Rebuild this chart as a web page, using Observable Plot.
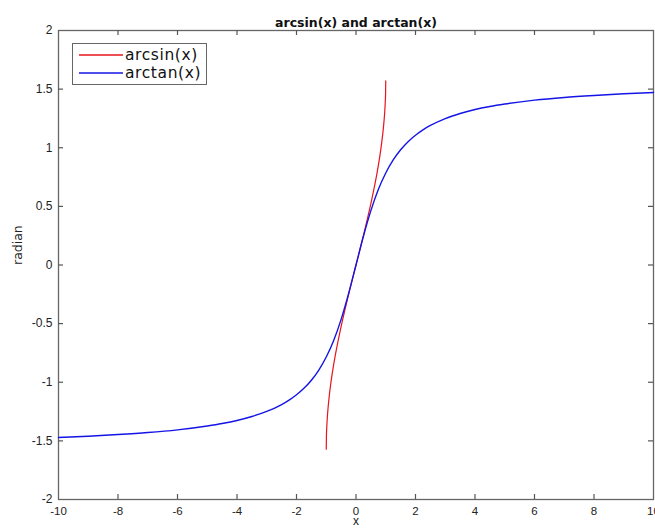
<!DOCTYPE html>
<html><head><meta charset="utf-8">
<script src="https://cdn.jsdelivr.net/npm/d3@7"></script>
<script src="https://cdn.jsdelivr.net/npm/@observablehq/plot@0.6"></script>
<style>
body{margin:0;background:#fff;}
#wrap{position:relative;width:655px;height:528px;font-family:"Liberation Sans",Arial,sans-serif;}
#legend{position:absolute;left:72px;top:43px;width:135px;height:42px;border:1.3px solid #666;background:#fff;box-sizing:border-box;}
.row{position:absolute;left:0;height:18px;line-height:18px;display:flex;align-items:center;font-family:"DejaVu Sans",sans-serif;font-size:15.5px;letter-spacing:0.6px;color:#111;white-space:nowrap;}
.row svg{margin-left:6px;margin-right:2px;}
</style></head><body><div id="wrap"></div>
<script>
const title = "arcsin(x) and arctan(x)";
const xLabel = "x";
const yLabel = "radian";
const seriesNames = ["arcsin(x)", "arctan(x)"];
const seriesColors = ["#e8141c", "#1414e6"];
const xTicks = [-10, -8, -6, -4, -2, 0, 2, 4, 6, 8, 10];
const yTicks = [-2, -1.5, -1, -0.5, 0, 0.5, 1, 1.5, 2];

const arctanX = [-10,-9,-8,-7,-6,-5,-4.5,-4,-3.5,-3,-2.5,-2.25,-2,-1.75,-1.5,-1.25,-1,-0.75,-0.5,-0.25,0,0.25,0.5,0.75,1,1.25,1.5,1.75,2,2.25,2.5,3,3.5,4,4.5,5,6,7,8,9,10];
const arctanY = [-1.471,-1.460,-1.446,-1.429,-1.406,-1.373,-1.352,-1.326,-1.292,-1.249,-1.190,-1.153,-1.107,-1.052,-0.983,-0.896,-0.785,-0.644,-0.464,-0.245,0,0.245,0.464,0.644,0.785,0.896,0.983,1.052,1.107,1.153,1.190,1.249,1.292,1.326,1.352,1.373,1.406,1.429,1.446,1.460,1.471];
const arcsinX = [-1,-0.995,-0.98,-0.95,-0.9,-0.85,-0.8,-0.7,-0.6,-0.5,-0.4,-0.2,0,0.2,0.4,0.5,0.6,0.7,0.8,0.85,0.9,0.95,0.98,0.995,1];
const arcsinY = [-1.571,-1.471,-1.370,-1.253,-1.120,-1.016,-0.927,-0.775,-0.644,-0.524,-0.412,-0.201,0,0.201,0.412,0.524,0.644,0.775,0.927,1.016,1.120,1.253,1.370,1.471,1.571];

const arcsin = arcsinX.map((x, i) => ({x, y: arcsinY[i]}));
const arctan = arctanX.map((x, i) => ({x, y: arctanY[i]}));

const font = "Liberation Sans, Arial, sans-serif";
const wide = "DejaVu Sans, sans-serif";
const W = 655, H = 528, mL = 58, mR = 2, mT = 30, mB = 29;
const tick = 5;
const chart = Plot.plot({
  width: W, height: H,
  marginLeft: mL, marginRight: mR, marginTop: mT, marginBottom: mB,
  style: {fontFamily: font, fontSize: "11px", color: "#222", background: "#fff", overflow: "visible"},
  x: {domain: [-10, 10]},
  y: {domain: [-2, 2]},
  marks: [
    Plot.frame({stroke: "#666", strokeWidth: 1.3}),
    Plot.axisX(xTicks, {tickSize: 0, tickPadding: 7, label: null, fontSize: 11.5, tickFormat: d => String(d)}),
    Plot.axisY(yTicks, {tickSize: 0, tickPadding: 6, label: null, fontSize: 12, tickFormat: d => String(d)}),
    Plot.tickX(xTicks.slice(1, -1), {x: d => d, insetTop: H - mT - mB - tick, stroke: "#555", strokeWidth: 1.2}),
    Plot.tickX(xTicks.slice(1, -1), {x: d => d, insetBottom: H - mT - mB - tick, stroke: "#555", strokeWidth: 1.2}),
    Plot.tickY(yTicks.slice(1, -1), {y: d => d, insetRight: W - mL - mR - tick, stroke: "#555", strokeWidth: 1.2}),
    Plot.tickY(yTicks.slice(1, -1), {y: d => d, insetLeft: W - mL - mR - tick, stroke: "#555", strokeWidth: 1.2}),
    Plot.line(arcsin, {x: "x", y: "y", stroke: seriesColors[0], strokeWidth: 1.2, curve: "monotone-x"}),
    Plot.line(arctan, {x: "x", y: "y", stroke: seriesColors[1], strokeWidth: 1.4, curve: "monotone-x"}),
    Plot.text([title], {frameAnchor: "top", dy: -12, fontWeight: "bold", fontSize: 12.5, fontFamily: wide, fill: "#111"}),
    Plot.text([xLabel], {frameAnchor: "bottom", dy: 25, fontSize: 12, fill: "#222"}),
    Plot.text([yLabel], {frameAnchor: "left", dx: -41, rotate: -90, fontSize: 12.5, fontFamily: wide, fill: "#222"})
  ]
});
const wrap = document.getElementById("wrap");
wrap.appendChild(chart);
const legend = document.createElement("div");
legend.id = "legend";
seriesNames.forEach((name, i) => {
  const row = document.createElement("div");
  row.className = "row";
  row.style.top = (2 + i * 18) + "px";
  row.innerHTML = `<svg width="44" height="4"><line x1="0" x2="44" y1="2" y2="2" stroke="${seriesColors[i]}" stroke-width="1.3"/></svg>`;
  row.appendChild(document.createTextNode(name));
  legend.appendChild(row);
});
wrap.appendChild(legend);
</script>
</body></html>
